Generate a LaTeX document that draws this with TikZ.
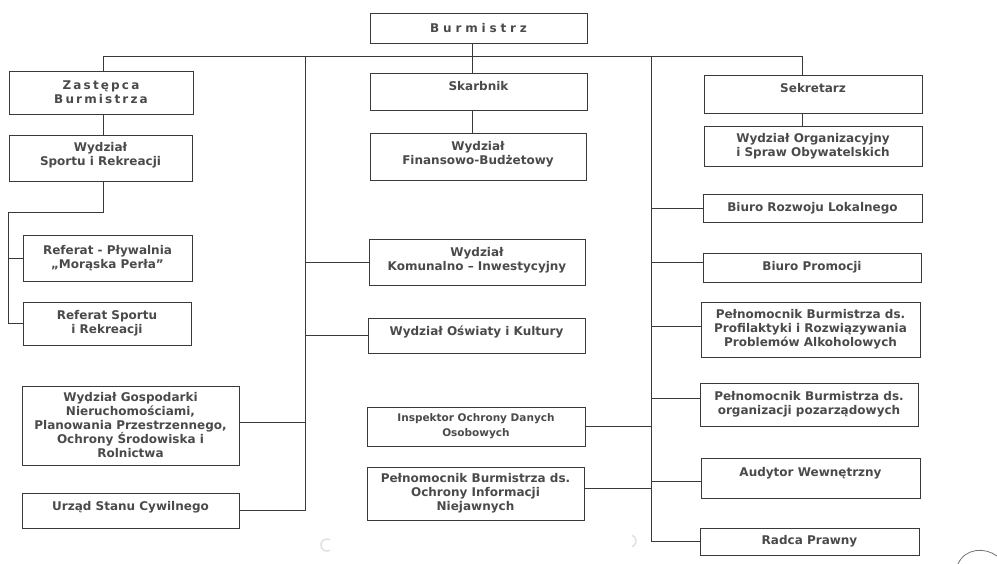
\documentclass[tikz,border=0pt]{standalone}
\usepackage{fontspec}
\setmainfont{DejaVu Sans}
\newfontfamily\spacedA[LetterSpace=32]{DejaVu Sans}
\newfontfamily\spacedB[LetterSpace=18]{DejaVu Sans}
\usepackage{xcolor}
\usetikzlibrary{calc}
\definecolor{txtgray}{HTML}{4a4a4a}
\definecolor{linegray}{HTML}{3a3a3a}

\begin{document}
\begin{tikzpicture}[x=1pt,y=-1pt,
	box/.style={draw=linegray,line width=1pt,align=center,inner sep=0pt,text=txtgray,font=\fontsize{12}{14}\selectfont\bfseries},
	sz/.style 2 args={minimum width=#1pt,minimum height=#2pt},
	lift/.style={text depth=#1pt},
	wire/.style={draw=linegray,line width=0.9pt}]
	\useasboundingbox (0,0) rectangle (997,563);

	% boxes
	\node[box,sz={217}{30},font=\fontsize{12}{14}\selectfont\bfseries\spacedA] (burm) at (478.5,28) {Burmistrz};
	\node[box,sz={184}{43},font=\fontsize{12}{14}\selectfont\bfseries\spacedB] (zast) at (101,92.5) {Zastępca\\Burmistrza};
	\node[box,sz={183}{46},lift=8] (sport) at (100.5,158) {Wydział\\Sportu i Rekreacji};
	\node[box,sz={169}{46}] (plyw) at (107.5,258) {Referat - Pływalnia\\„Morąska Perła”};
	\node[box,sz={168}{43}] (refsport) at (107,323.5) {Referat Sportu\\i Rekreacji};
	\node[box,sz={217}{79}] (gosp) at (130.5,425.5) {Wydział Gospodarki\\Nieruchomościami,\\Planowania Przestrzennego,\\Ochrony Środowiska i\\Rolnictwa};
	\node[box,sz={217}{35},lift=9] (usc) at (130.5,510.5) {Urząd Stanu Cywilnego};

	\node[box,sz={217}{37},lift=11] (skarb) at (478.5,91.5) {Skarbnik};
	\node[box,sz={216}{47},lift=8] (fin) at (478,156.5) {Wydział\\Finansowo-Budżetowy};
	\node[box,sz={216}{46},lift=7] (kom) at (477,262) {Wydział\\Komunalno – Inwestycyjny};
	\node[box,sz={217}{35},lift=9] (osw) at (476.5,335.5) {Wydział Oświaty i Kultury};
	\node[box,sz={218}{39},font=\fontsize{10.5}{15}\selectfont\bfseries] (insp) at (476,426.5) {Inspektor Ochrony Danych\\Osobowych};
	\node[box,sz={217}{53}] (niej) at (475.5,493.5) {Pełnomocnik Burmistrza ds.\\Ochrony Informacji\\Niejawnych};

	\node[box,sz={218}{38},lift=12] (sekr) at (813,94) {Sekretarz};
	\node[box,sz={218}{40}] (org) at (813,146) {Wydział Organizacyjny\\i Spraw Obywatelskich};
	\node[box,sz={219}{28}] (bro) at (812.5,208) {Biuro Rozwoju Lokalnego};
	\node[box,sz={218}{29}] (prom) at (812,267.5) {Biuro Promocji};
	\node[box,sz={219}{55}] (alko) at (810.5,329.5) {Pełnomocnik Burmistrza ds.\\Profilaktyki i Rozwiązywania\\Problemów Alkoholowych};
	\node[box,sz={218}{43}] (poz) at (809,404.5) {Pełnomocnik Burmistrza ds.\\organizacji pozarządowych};
	\node[box,sz={219}{40},lift=12] (aud) at (810.5,478) {Audytor Wewnętrzny};
	\node[box,sz={219}{27}] (radca) at (809.5,541.5) {Radca Prawny};

	% lines
	\coordinate (barL) at (103,56);
	\coordinate (barR) at (802,56);
	\coordinate (top) at (472,56);
	\coordinate (midA) at (305,56);
	\coordinate (midB) at (651,56);
	\coordinate (leftK) at (8,212);
	\draw[wire] (barL) -- (barR);
	\draw[wire] (top |- burm.south) -- (top |- skarb.north);
	\draw[wire] (top |- skarb.south) -- (top |- fin.north);
	\draw[wire] (barL) -- (barL |- zast.north);
	\draw[wire] (barL |- zast.south) -- (barL |- sport.north);
	\draw[wire] (barL |- sport.south) |- (leftK) |- (refsport.west);
	\draw[wire] (leftK |- plyw.west) -- (plyw.west);
	\draw[wire] (barR) -- (barR |- sekr.north);
	\draw[wire] (barR |- sekr.south) -- (barR |- org.north);

	\draw[wire] (midA) |- (usc.east);
	\draw[wire] (midA |- kom.west) -- (kom.west);
	\draw[wire] (midA |- osw.west) -- (osw.west);
	\draw[wire] ([yshift=3pt]gosp.east) coordinate (g) -- (g -| midA);

	\draw[wire] (midB) |- (radca.west);
	\draw[wire] (midB |- bro.west) -- (bro.west);
	\draw[wire] ([yshift=5pt]prom.west) coordinate (p) -- (p -| midB);
	\draw[wire] ([yshift=3pt]alko.west) coordinate (a) -- (a -| midB);
	\draw[wire] ([yshift=6pt]poz.west) coordinate (z) -- (z -| midB);
	\draw[wire] ([yshift=-3pt]aud.west) coordinate (w) -- (w -| midB);
	\draw[wire] (insp.east) -- (midB |- insp.east);
	\draw[wire] ([yshift=5pt]niej.east) coordinate (n) -- (n -| midB);

	% scan marks
	\draw[black!12,line width=1.5pt] (327,545) ++(60:6) arc (60:300:6);
	\draw[black!12,line width=1.5pt] (630,541) ++(-70:6) arc (-70:70:6);
	\draw[black!55,line width=0.8pt] (958,564) .. controls (965,548) and (985,547) .. (997,556);
\end{tikzpicture}
\end{document}
